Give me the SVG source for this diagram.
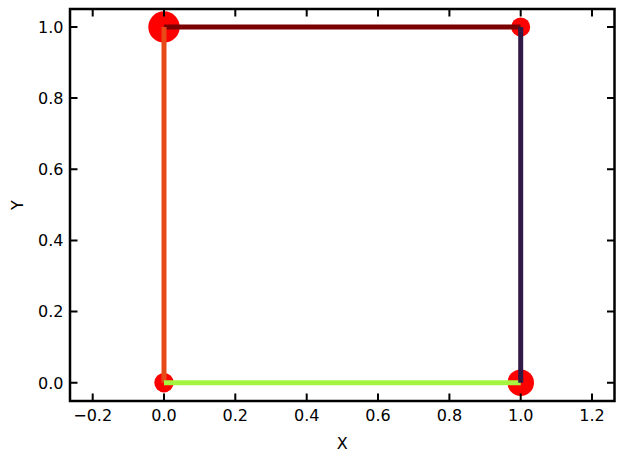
<svg xmlns="http://www.w3.org/2000/svg" width="624" height="463" viewBox="0 0 624 463">
<style>
text{font-family:"DejaVu Sans",sans-serif;font-size:16px;fill:#000}
.yl{text-anchor:end}
.xl{text-anchor:middle}
.tick{stroke:#000;stroke-width:2}
.seg{stroke-width:5;fill:none;stroke-linecap:butt}
.pt{fill:#ff0000}
</style>
<rect width="624" height="463" fill="#fff"/>
<g id="markers">
<circle id="p01" class="pt" cx="164" cy="27" r="15.7"/>
<circle id="p11" class="pt" cx="520.7" cy="27" r="9.5"/>
<circle id="p00" class="pt" cx="164" cy="382.7" r="9.7"/>
<circle id="p10" class="pt" cx="520.7" cy="382.7" r="13.3"/>
</g>
<g id="connectors">
<line class="seg" x1="164" y1="27" x2="520.7" y2="27" stroke="#7b0000"/>
<line class="seg" x1="164" y1="382.7" x2="164" y2="27" stroke="#e84a17"/>
<line class="seg" x1="164" y1="382.7" x2="520.7" y2="382.7" stroke="#a5f540"/>
<line class="seg" x1="520.7" y1="382.7" x2="520.7" y2="27" stroke="#311a45"/>
</g>
<g id="ticks" class="tick">
<path d="M92.7 401v-7.5M164 401v-7.5M235.3 401v-7.5M306.7 401v-7.5M378 401v-7.5M449.4 401v-7.5M520.7 401v-7.5M592 401v-7.5"/>
<path d="M92.7 9v7.5M164 9v7.5M235.3 9v7.5M306.7 9v7.5M378 9v7.5M449.4 9v7.5M520.7 9v7.5M592 9v7.5"/>
<path d="M70 382.7h7.5M70 311.6h7.5M70 240.4h7.5M70 169.3h7.5M70 98.1h7.5M70 27h7.5"/>
<path d="M614.5 382.7h-7.5M614.5 311.6h-7.5M614.5 240.4h-7.5M614.5 169.3h-7.5M614.5 98.1h-7.5M614.5 27h-7.5"/>
</g>
<rect id="frame" x="70" y="9" width="544.5" height="392" fill="none" stroke="#000" stroke-width="2.5"/>
<g id="xlabels" class="xl">
<text x="92.7" y="421">−0.2</text>
<text x="164" y="421">0.0</text>
<text x="235.3" y="421">0.2</text>
<text x="306.7" y="421">0.4</text>
<text x="378" y="421">0.6</text>
<text x="449.4" y="421">0.8</text>
<text x="520.7" y="421">1.0</text>
<text x="592" y="421">1.2</text>
</g>
<g id="ylabels" class="yl">
<text x="63.5" y="388.5">0.0</text>
<text x="63.5" y="317.4">0.2</text>
<text x="63.5" y="246.2">0.4</text>
<text x="63.5" y="175.1">0.6</text>
<text x="63.5" y="103.9">0.8</text>
<text x="63.5" y="32.8">1.0</text>
</g>
<text id="xtitle" class="xl" x="342.3" y="448.5">X</text>
<text id="ytitle" class="xl" transform="translate(22.5 205) rotate(-90)">Y</text>
</svg>
